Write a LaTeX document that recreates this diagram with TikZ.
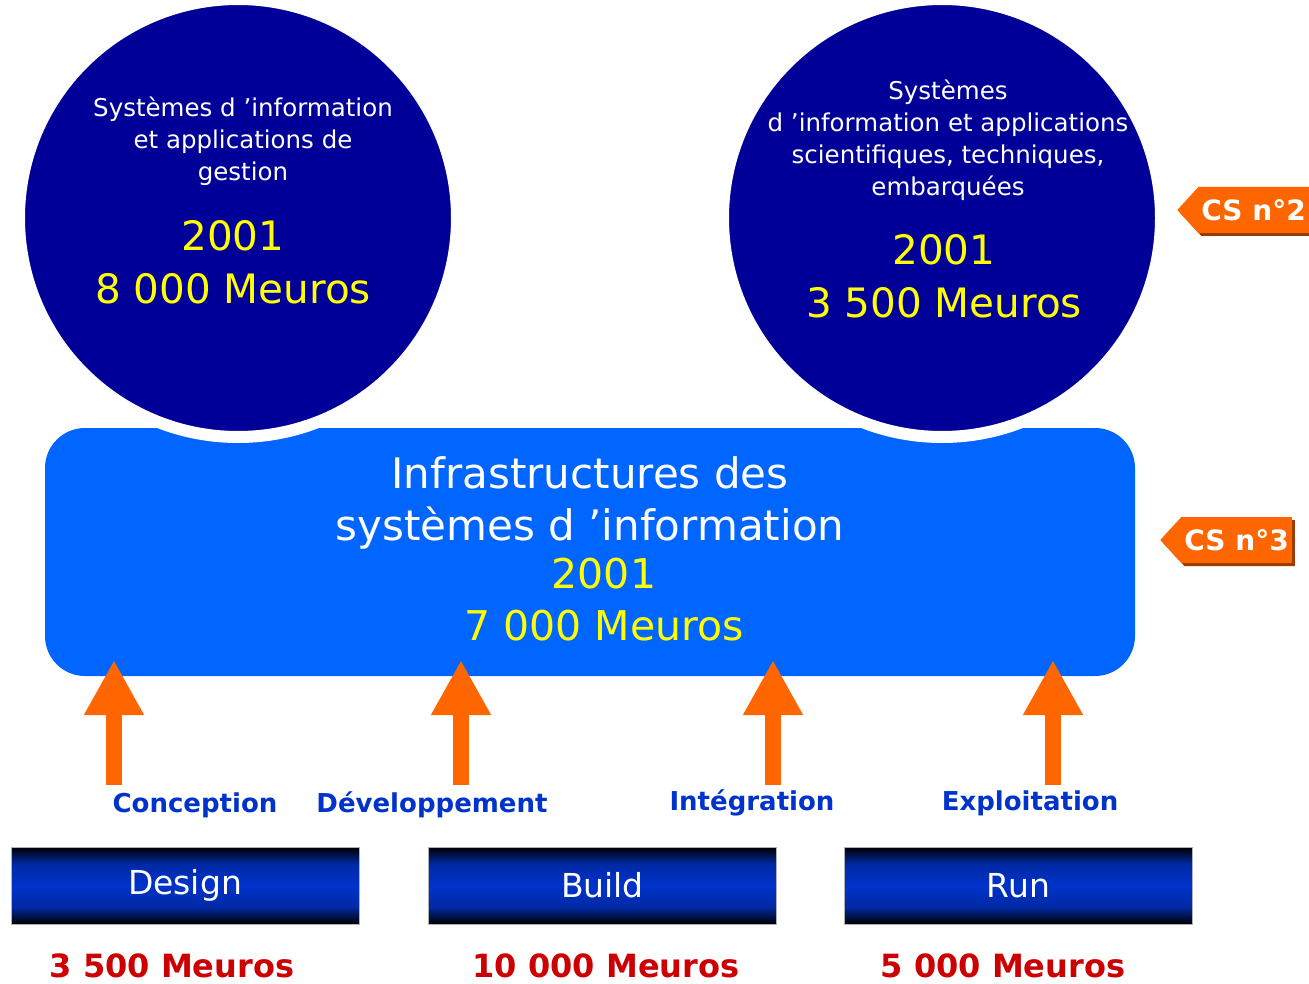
\documentclass[tikz,border=0pt]{standalone}
\usepackage{fontspec}
\setmainfont{DejaVu Sans}
\usetikzlibrary{positioning,arrows.meta,shapes.symbols,shadows}
\definecolor{navy}{HTML}{000099}
\definecolor{sky}{HTML}{0066FF}
\definecolor{flame}{HTML}{FF6600}
\definecolor{royal}{HTML}{0033CC}
\definecolor{crimson}{HTML}{CC0000}
\definecolor{lemon}{HTML}{FFFF00}
% dark edges, bright blue band in the middle
\pgfdeclareverticalshading{phasebar}{100bp}{color(0bp)=(black); color(25bp)=(black);
  color(36bp)=(royal!80!black); color(50bp)=(royal); color(64bp)=(royal!80!black);
  color(75bp)=(black); color(100bp)=(black)}

\tikzset{
  bubble/.style={circle, fill=navy, draw=white, line width=12pt, minimum size=438pt, inner sep=0pt},
  smalltxt/.style={text=white, align=center, font=\fontsize{24.5}{32}\selectfont},
  bigtxt/.style={text=lemon, align=center, font=\fontsize{40.5}{53}\selectfont},
  lift/.style={flame, line width=16pt, -{Triangle[width=56pt,length=55pt]}},
  stage/.style={text=royal, font=\bfseries\fontsize{26}{30}\selectfont},
  phase/.style={minimum width=348pt, minimum height=77pt, inner sep=0pt,
    shading=phasebar, draw=gray!60, line width=1pt,
    text=white, font=\fontsize{33}{40}\selectfont},
  cost/.style={text=crimson, font=\bfseries\fontsize{32}{36}\selectfont},
  cstag/.style={signal, signal to=west, signal pointer angle=95, fill=flame,
    inner xsep=3pt, inner ysep=0pt, minimum height=46pt, anchor=west,
    text=white, font=\bfseries\fontsize{28}{32}\selectfont,
    drop shadow={shadow xshift=3pt, shadow yshift=-3pt, fill=flame!60!black, opacity=1}}
}

\begin{document}
\begin{tikzpicture}[x=1pt,y=-1pt]
\useasboundingbox (0,0) rectangle (1309,984);
\clip (0,0) rectangle (1309,984);

% Infrastructure block
\node[fill=sky, rounded corners=40pt, minimum width=1090pt, minimum height=248pt] (infra) at (590,552) {};
\node[text=white, align=center, font=\fontsize{42}{52}\selectfont] (infralbl) at (590,503)
  {Infrastructures des\\syst\`emes d 'information};
\node[bigtxt, font=\fontsize{41}{52}\selectfont] (infracost) at (604,600) {2001\\7 000 Meuros};

% Two domains on top
\node[bubble] (gestion) at (238,218) {};
\node[smalltxt] (gestionlbl) at (243,141) {Syst\`emes d 'information\\et applications de\\gestion};
\node[bigtxt] (gestioncost) at (233,262) {2001\\8 000 Meuros};

\node[bubble] (scient) at (942,218) {};
\node[smalltxt] (scientlbl) at (948,140)
  {Syst\`emes\\d 'information et applications\\scientifiques, techniques,\\embarqu\'ees};
\node[bigtxt] (scientcost) at (944,276) {2001\\3 500 Meuros};

% Tags
\node[cstag] (cs2) at (1177,210) {CS n°2};
\node[cstag] (cs3) at (1160,540) {CS n°3};

% Activities feeding the infrastructure
\foreach \x/\name in {114/conc, 461/dev, 773/integ, 1053/expl} {
  \coordinate (\name-base) at (\x,785);
  \coordinate (\name-tip) at (\x,660);
  \draw[lift] (\name-base) -- (\name-tip);
}
\node[stage] (conclbl) at (195,805) {Conception};
\node[stage] (devlbl) at (432,805) {D\'eveloppement};
\node[stage] (integlbl) at (752,803) {Int\'egration};
\node[stage] (expllbl) at (1030,803) {Exploitation};

% Phases and budgets
\node[phase] (design) at (185,885.5) {Design};
\node[phase] (build) at (602.5,885.5) {Build};
\node[phase] (run) at (1018.5,885.5) {Run};
\node[cost] (designcost) at (172,966) {3 500 Meuros};
\node[cost] (buildcost) at (606,966) {10 000 Meuros};
\node[cost] (runcost) at (1003,966) {5 000 Meuros};
\end{tikzpicture}
\end{document}
